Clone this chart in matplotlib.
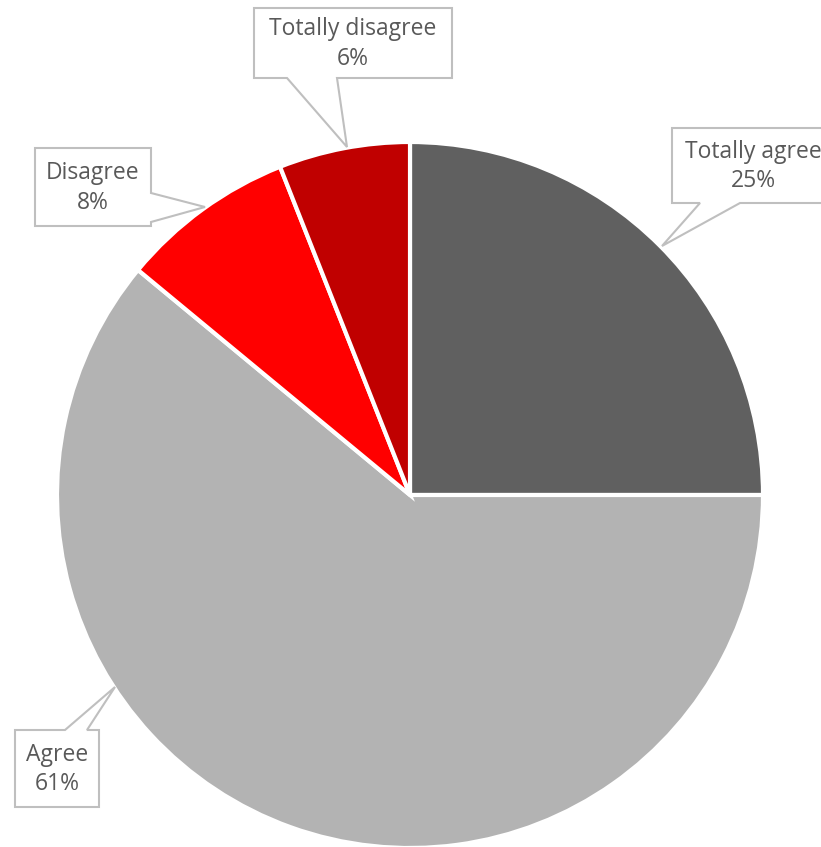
import matplotlib.pyplot as plt
from matplotlib.patches import Polygon

# Data
labels = ['Totally agree', 'Agree', 'Disagree', 'Totally disagree']
values = [25, 61, 8, 6]
colors = ['#606060', '#b3b3b3', '#ff0000', '#c00000']

W, H = 821, 847
fig = plt.figure(figsize=(W / 100, H / 100), dpi=100)
ax = fig.add_axes([0, 0, 1, 1])

cx, cy, r = 410, H - 495, 353
ax.pie(values, colors=colors, startangle=90, counterclock=False,
       center=(cx, cy), radius=r, frame=True,
       wedgeprops=dict(edgecolor='white', linewidth=3))
ax.set_xlim(0, W)
ax.set_ylim(0, H)
ax.set_aspect('equal')
ax.axis('off')

# callout layout in pixel coords (top-left origin): box, side of pointer, pointer base, tip
callouts = {
    'Totally agree': ((672, 128, 835, 203), 'bottom', (700, 740), (662, 246)),
    'Agree': ((15, 730, 99, 807), 'top', (65, 87), (115, 687)),
    'Disagree': ((35, 148, 151, 226), 'right', (193, 222), (205, 207)),
    'Totally disagree': ((254, 8, 452, 78), 'bottom', (287, 337), (347, 147)),
}


def py(y):
    return H - y


for lab, val in zip(labels, values):
    (x0, y0, x1, y1), side, (b0, b1), (tx, ty) = callouts[lab]
    if side == 'bottom':
        pts = [(x0, y0), (x1, y0), (x1, y1), (b1, y1), (tx, ty), (b0, y1), (x0, y1)]
    elif side == 'top':
        pts = [(x0, y0), (b0, y0), (tx, ty), (b1, y0), (x1, y0), (x1, y1), (x0, y1)]
    else:
        pts = [(x0, y0), (x1, y0), (x1, b0), (tx, ty), (x1, b1), (x1, y1), (x0, y1)]
    poly = Polygon([(x, py(y)) for x, y in pts], closed=True,
                   facecolor='white', edgecolor='#bfbfbf', linewidth=1.5,
                   clip_on=False, zorder=5)
    ax.add_patch(poly)
    xm = (x0 + x1) / 2
    ym = (y0 + y1) / 2 + 1
    ax.text(xm, py(ym), f'{lab}\n{val}%', ha='center', va='center',
            fontsize=16.5, color='#595959', family='Open Sans',
            linespacing=1.3, zorder=6)

fig.savefig('out.png', dpi=100)
